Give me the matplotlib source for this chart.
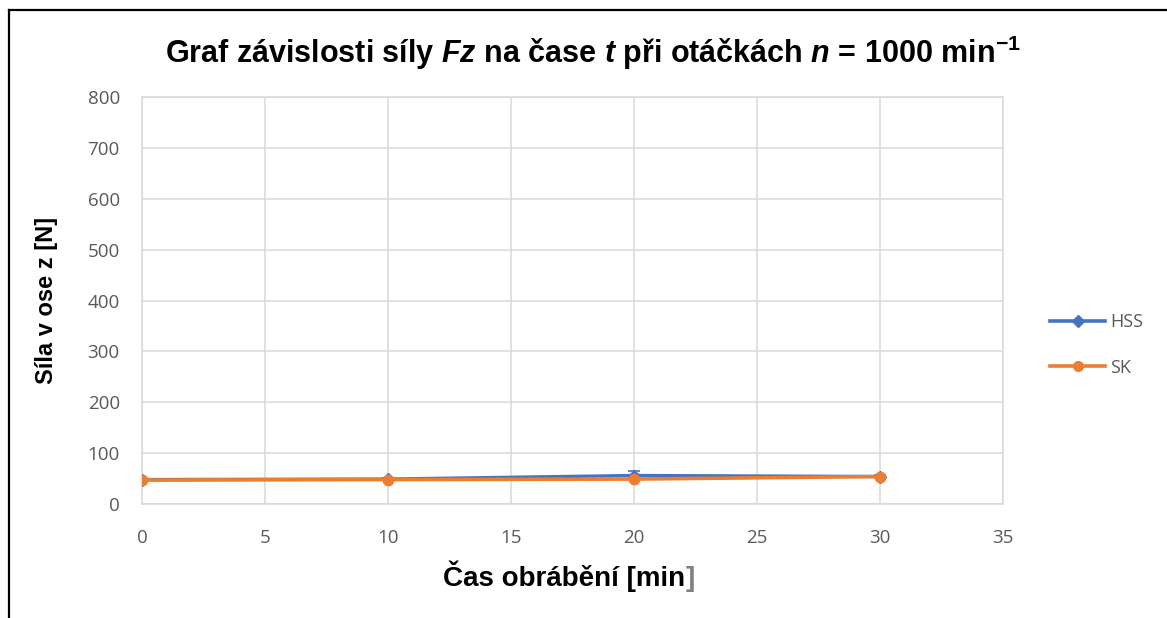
import matplotlib
matplotlib.use("Agg")
import matplotlib.pyplot as plt
from matplotlib.lines import Line2D

plt.rcParams['mathtext.fontset'] = 'custom'
plt.rcParams['mathtext.rm'] = 'Liberation Sans:bold'
plt.rcParams['mathtext.it'] = 'Liberation Sans:bold:italic'
plt.rcParams['mathtext.bf'] = 'Liberation Sans:bold'
plt.rcParams['mathtext.default'] = 'rm'

time_min = [0, 10, 20, 30]
hss_force = [48, 49, 56, 54]
hss_err = [2, 2, 9, 3]
sk_force = [47, 48, 49, 54]
sk_err = [1, 1, 2, 2]
x_ticks = [0, 5, 10, 15, 20, 25, 30, 35]
y_ticks = [0, 100, 200, 300, 400, 500, 600, 700, 800]

W, H = 1167, 618
fig = plt.figure(figsize=(W / 100, H / 100), dpi=100)
ax = fig.add_axes([142 / W, 1 - 504 / H, (1003 - 142) / W, (504 - 97) / H])

grid_c = '#d9d9d9'
tick_c = '#595959'
hss_c = '#4472C4'
sk_c = '#ED7D31'

ax.errorbar(time_min, hss_force, yerr=hss_err, color=hss_c, lw=2.4, marker='D',
            ms=6, capsize=4, elinewidth=1.2, capthick=1.2, zorder=3, label='HSS')
ax.errorbar(time_min, sk_force, yerr=sk_err, color=sk_c, lw=2.6, marker='o',
            ms=7.5, capsize=4, elinewidth=1.2, capthick=1.2, zorder=4, label='SK')

ax.set_xlim(0, 35)
ax.set_ylim(0, 800)
ax.set_xticks(x_ticks)
ax.set_yticks(y_ticks)
ax.grid(True, color=grid_c, lw=1.1)
ax.set_axisbelow(True)
for s in ax.spines.values():
    s.set_color(grid_c)
    s.set_linewidth(1.1)
ax.tick_params(length=0, colors=tick_c, labelsize=13.5)
ax.tick_params(axis='x', pad=18)
ax.tick_params(axis='y', pad=16)
for lbl in ax.get_xticklabels() + ax.get_yticklabels():
    lbl.set_fontfamily('Open Sans')

fig.text(0.508, 1 - 53 / H,
         r"Graf závislosti síly $\mathit{Fz}$ na čase $\mathit{t}$ při otáčkách $\mathit{n}$ = 1000 min$^{-1}$",
         ha='center', va='center', fontsize=22, fontweight='bold',
         family='Liberation Sans', color='black')

t = fig.text(443 / W, 1 - 576 / H, "Čas obrábění [min", ha='left', va='center',
             fontsize=20, fontweight='bold', family='Liberation Sans', color='black')
ax.annotate("]", xy=(1, 0), xycoords=t, xytext=(0, 0), textcoords='offset points',
            ha='left', va='bottom', fontsize=20, fontweight='bold',
            family='Liberation Sans', color='#808080', annotation_clip=False)

fig.text(47 / W, 1 - 300 / H, "Síla v ose z [N]", rotation=90, ha='center', va='center',
         fontsize=17, fontweight='bold', family='Liberation Sans', color='black')

handles = [Line2D([], [], color=hss_c, lw=2.6, marker='D', ms=6),
           Line2D([], [], color=sk_c, lw=2.6, marker='o', ms=7)]
leg = fig.legend(handles, ['HSS', 'SK'], loc='center left',
                 bbox_to_anchor=(1050 / W, 1 - 345 / H), frameon=False,
                 borderpad=0, borderaxespad=0,
                 handlelength=3.05, labelspacing=1.5, handletextpad=0.3,
                 prop={'family': 'Open Sans', 'size': 13})
for txt in leg.get_texts():
    txt.set_color(tick_c)

# outer frame (left and top lines)
fig.add_artist(Line2D([8.5 / W, 8.5 / W], [0, 1 - 9.5 / H], color='black', lw=1.6,
                      transform=fig.transFigure))
fig.add_artist(Line2D([8.5 / W, 1], [1 - 9.5 / H, 1 - 9.5 / H], color='black', lw=1.6,
                      transform=fig.transFigure))

fig.savefig('out.png', dpi=100, facecolor='white')
